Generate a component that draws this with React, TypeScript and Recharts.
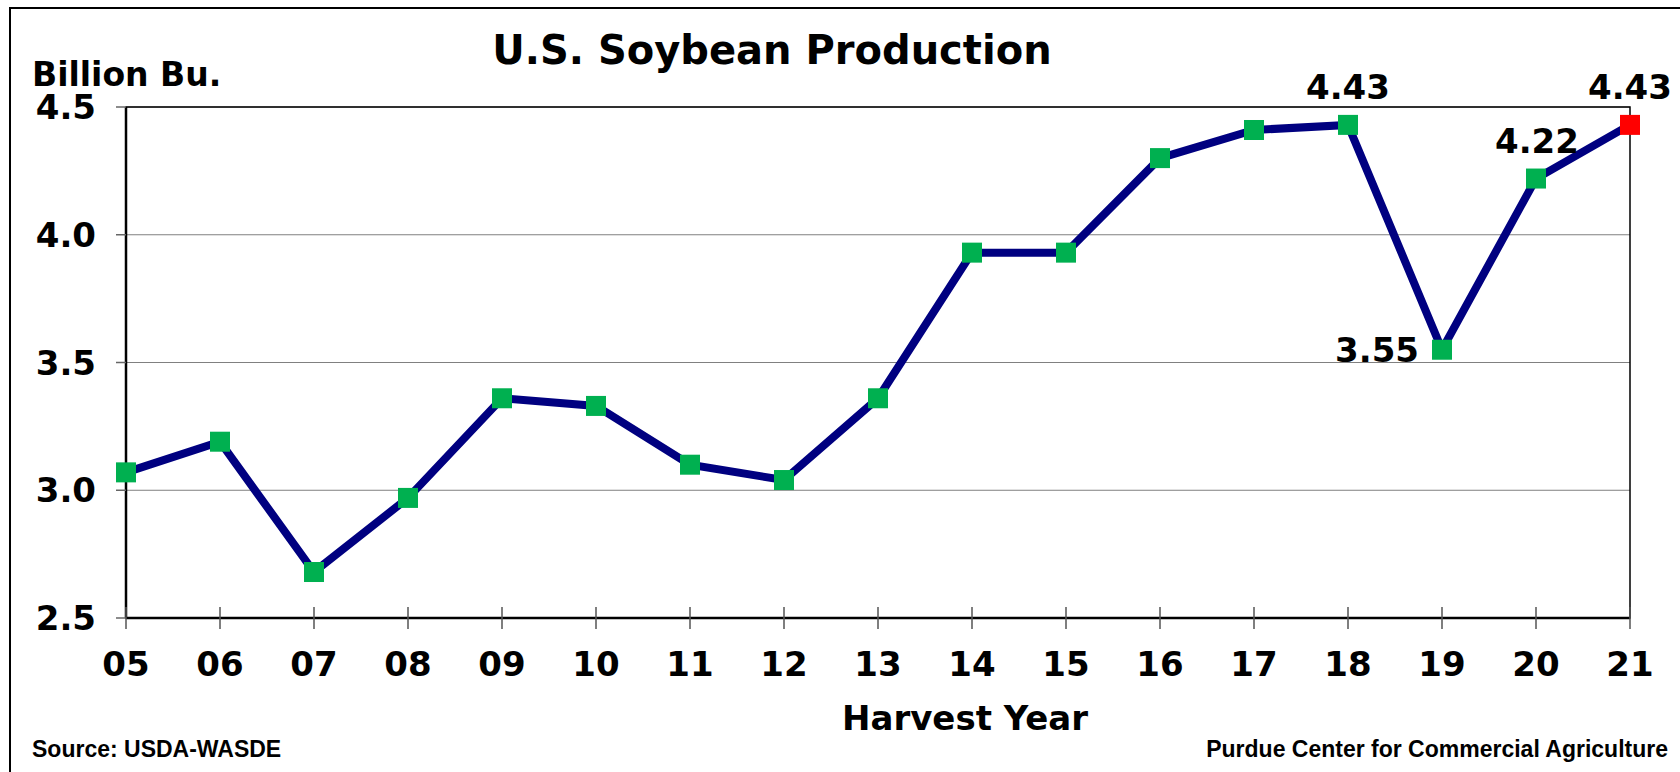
import React from "react";
import {
  LineChart,
  Line,
  XAxis,
  YAxis,
  CartesianGrid,
  ReferenceArea,
  LabelList,
} from "recharts";

const years = ["05", "06", "07", "08", "09", "10", "11", "12", "13", "14", "15", "16", "17", "18", "19", "20", "21"];
const production = [3.07, 3.19, 2.68, 2.97, 3.36, 3.33, 3.1, 3.04, 3.36, 3.93, 3.93, 4.3, 4.41, 4.43, 3.55, 4.22, 4.43];
const yTicks = [2.5, 3.0, 3.5, 4.0, 4.5];
const labeledYears = ["18", "19", "20", "21"];
const highlightYear = "21";

const data = years.map((y, i) => ({ year: y, value: production[i] }));

const FONT = "'DejaVu Sans', Verdana, sans-serif";
const ARIAL = "'Liberation Sans', Arial, sans-serif";

const W = 1680;
const H = 772;

const XTick = (props: any) => {
  const { x, y, payload } = props;
  return (
    <g>
      <line x1={x} x2={x} y1={y - 11} y2={y + 11} stroke="#555" strokeWidth={1.5} />
      <text
        x={x}
        y={y + 58}
        textAnchor="middle"
        fontFamily={FONT}
        fontWeight="bold"
        fontSize={34}
        fill="#000"
      >
        {payload.value}
      </text>
    </g>
  );
};

const YTick = (props: any) => {
  const { x, y, payload } = props;
  return (
    <text
      x={x}
      y={y + 12}
      textAnchor="end"
      fontFamily={FONT}
      fontWeight="bold"
      fontSize={34}
      fill="#000"
    >
      {payload.value.toFixed(1)}
    </text>
  );
};

const SquareDot = (props: any) => {
  const { cx, cy, payload, index } = props;
  if (cx == null || cy == null) return <g key={`d${index}`} />;
  const s = 20;
  const color = payload.year === highlightYear ? "#FF0000" : "#00B050";
  return <rect key={`d${index}`} x={cx - s / 2} y={cy - s / 2} width={s} height={s} fill={color} />;
};

const ValueLabel = (props: any) => {
  const { x, y, value, index } = props;
  const yr = years[index];
  if (!labeledYears.includes(yr)) return null;
  const common = {
    fontFamily: FONT,
    fontWeight: "bold" as const,
    fontSize: 34,
    fill: "#000",
  };
  const txt = Number(value).toFixed(2);
  if (yr === "19") {
    return (
      <text x={x - 23} y={y + 12} textAnchor="end" {...common}>
        {txt}
      </text>
    );
  }
  return (
    <text x={x + (yr === "20" ? 1 : 0)} y={y - 26} textAnchor="middle" {...common}>
      {txt}
    </text>
  );
};

export default function App() {
  return (
    <div style={{ position: "absolute", left: 0, top: 0, width: W, height: H, background: "#fff", overflow: "hidden" }}>
      <div
        style={{
          position: "absolute",
          left: 9,
          top: 7,
          width: W,
          height: H,
          borderLeft: "2px solid #000",
          borderTop: "2px solid #000",
        }}
      />
      <div style={{ position: "absolute", left: 0, top: 0 }}>
        <LineChart width={W} height={H} data={data} margin={{ top: 107, right: 50, bottom: 54, left: 0 }}>
          <CartesianGrid horizontal vertical={false} stroke="#808080" strokeWidth={1} />
          <XAxis
            dataKey="year"
            type="category"
            height={100}
            tickSize={0}
            tickMargin={0}
            tickLine={false}
            axisLine={{ stroke: "#000", strokeWidth: 2.5 }}
            tick={<XTick />}
            interval={0}
            padding={{ left: 0, right: 0 }}
          />
          <YAxis
            type="number"
            domain={[2.5, 4.5]}
            ticks={yTicks}
            width={126}
            tickSize={10}
            tickMargin={20}
            tickLine={{ stroke: "#666", strokeWidth: 1.5 }}
            axisLine={{ stroke: "#000", strokeWidth: 2.5 }}
            tick={<YTick />}
            interval={0}
          />
          <ReferenceArea
            x1="05"
            x2="21"
            y1={2.5}
            y2={4.5}
            fill="none"
            stroke="#000"
            strokeWidth={1.5}
            ifOverflow="visible"
          />
          <Line
            type="linear"
            dataKey="value"
            stroke="#000080"
            strokeWidth={8}
            dot={SquareDot}
            activeDot={false}
            isAnimationActive={false}
          >
            <LabelList dataKey="value" content={ValueLabel} />
          </Line>
        </LineChart>
      </div>
      <svg width={W} height={H} style={{ position: "absolute", left: 0, top: 0, pointerEvents: "none" }}>
        <text x={772} y={64} textAnchor="middle" fontFamily={FONT} fontWeight="bold" fontSize={40} fill="#000">
          U.S. Soybean Production
        </text>
        <text x={32} y={86} textAnchor="start" fontFamily={FONT} fontWeight="bold" fontSize={33} fill="#000">
          Billion Bu.
        </text>
        <text x={965} y={730} textAnchor="middle" fontFamily={FONT} fontWeight="bold" fontSize={34} fill="#000">
          Harvest Year
        </text>
        <text x={32} y={757} textAnchor="start" fontFamily={ARIAL} fontWeight="bold" fontSize={23} fill="#000">
          Source: USDA-WASDE
        </text>
        <text x={1668} y={757} textAnchor="end" fontFamily={ARIAL} fontWeight="bold" fontSize={23} fill="#000">
          Purdue Center for Commercial Agriculture
        </text>
      </svg>
    </div>
  );
}
